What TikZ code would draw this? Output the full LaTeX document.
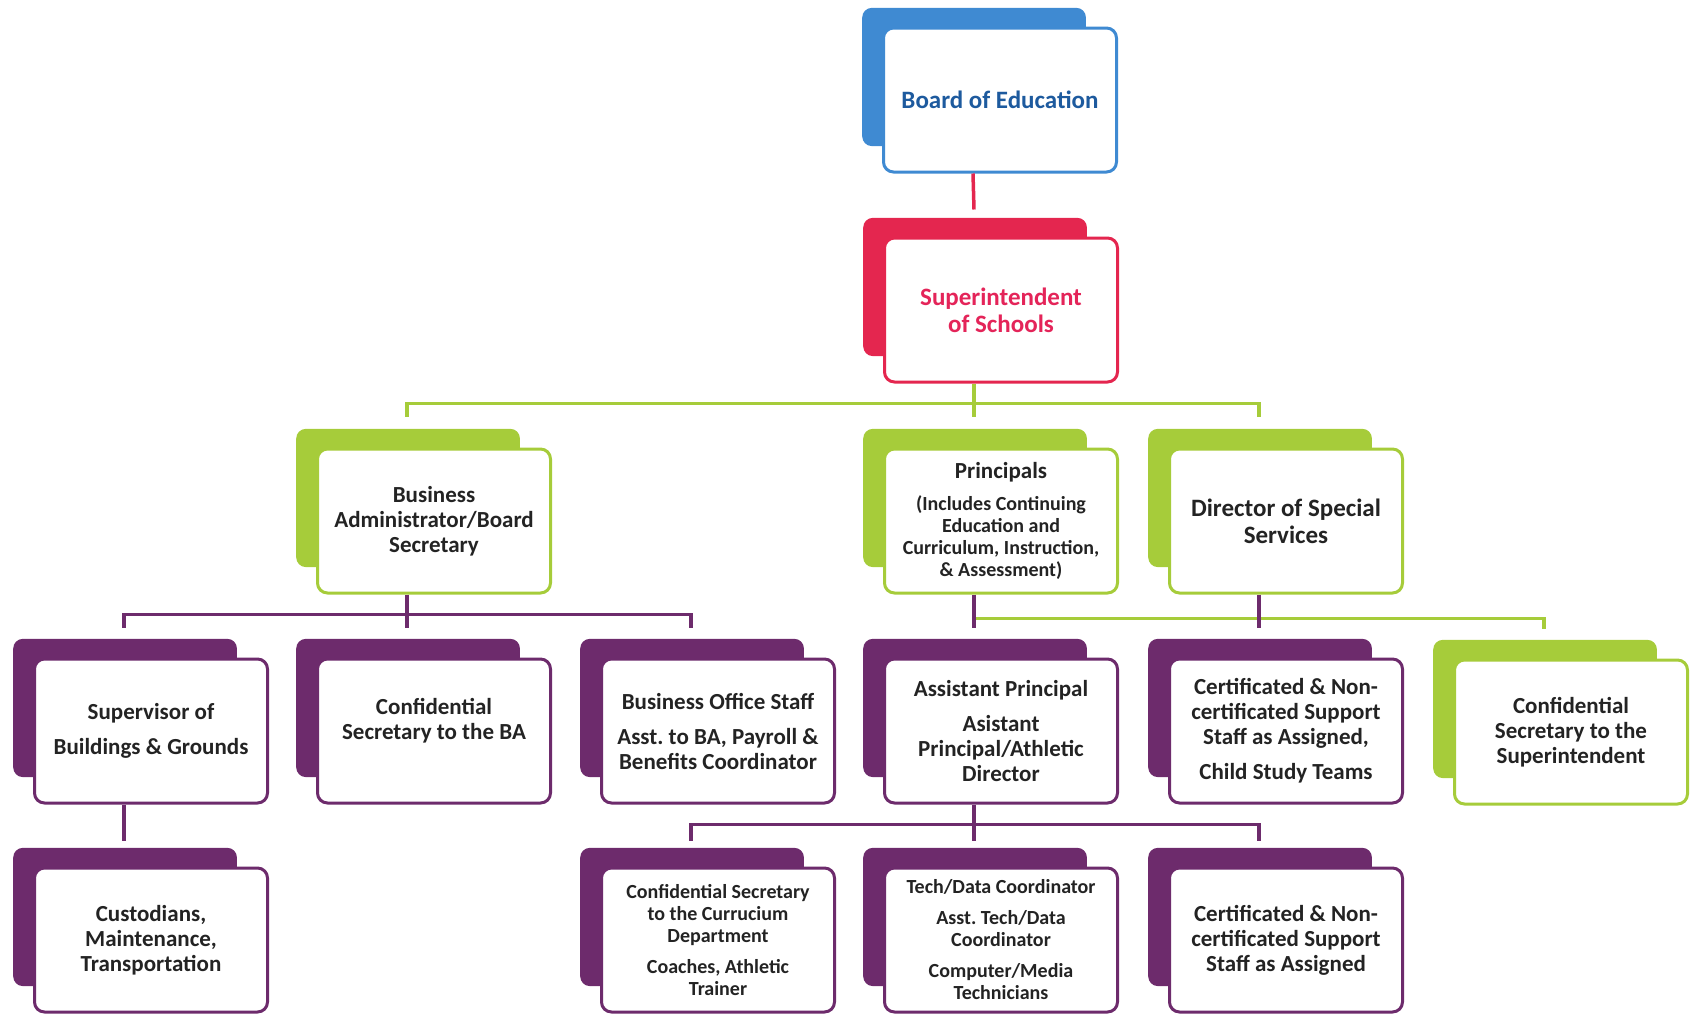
\documentclass[tikz,border=0pt]{standalone}
\usepackage{fontspec}
\setmainfont{Carlito}
\usepackage{tikz}
\usetikzlibrary{shadows}
\definecolor{boeBlue}{HTML}{3F8AD2}
\definecolor{boeText}{HTML}{1D5A9E}
\definecolor{supRed}{HTML}{E4264F}
\definecolor{supText}{HTML}{E42459}
\definecolor{stGreen}{HTML}{A6CC3A}
\definecolor{stPurple}{HTML}{6D2B6C}
\definecolor{inkGrey}{HTML}{232323}
\newcommand{\bigtxt}{\fontsize{25}{27}\selectfont\bfseries}
\newcommand{\midtxt}{\fontsize{23}{25}\selectfont\bfseries}
\newcommand{\smltxt}{\fontsize{20}{22}\selectfont\bfseries}
\tikzset{
  orgbox/.style   = {draw=#1, fill=white, line width=3pt, rounded corners=10pt,
                     minimum width=233pt, minimum height=144pt, inner sep=4pt,
                     text width=222pt, align=flush center, text=inkGrey, font=\midtxt,
                     general shadow={fill=#1, shadow scale=0.96,
                                     shadow xshift=-27pt, shadow yshift=24pt}},
  wire/.style     = {#1, line width=3.5pt},
}

\begin{document}
\begin{tikzpicture}[x=1pt, y=1pt]
  \useasboundingbox (0,0) rectangle (1690,-1018);

  % board and superintendent
  \node[orgbox=boeBlue, text=boeText, font=\bigtxt] (board) at (1000,-100) {Board of Education};
  \node[orgbox=supRed, text=supText, font=\bigtxt] (super) at (1001,-310) {Superintendent\\of Schools};

  % second level
  \node[orgbox=stGreen] (bizadmin) at (434,-521) {Business\\Administrator/Board\\Secretary};
  \node[orgbox=stGreen, font=\smltxt] (princ) at (1001,-521)
    {{\midtxt Principals}\\[10pt](Includes Continuing\\Education and\\Curriculum, Instruction,\\\& Assessment)};
  \node[orgbox=stGreen, font=\bigtxt] (dirss) at (1286,-521) {Director of Special\\Services};

  % third level
  \node[orgbox=stPurple] (supbg) at (151,-731) {Supervisor of\\[10pt]Buildings \& Grounds};
  \node[orgbox=stPurple] (confba) at (434,-731) {Confidential\\Secretary to the BA\\\mbox{}};
  \node[orgbox=stPurple] (bizoffice) at (718,-731)
    {Business Office Staff\\[10pt]Asst.\ to BA, Payroll \&\\Benefits Coordinator};
  \node[orgbox=stPurple] (asstprinc) at (1001,-731)
    {Assistant Principal\\[10pt]Asistant\\Principal/Athletic\\Director};
  \node[orgbox=stPurple] (certstaff) at (1286,-731)
    {Certificated \& Non-\\certificated Support\\Staff as Assigned,\\[10pt]Child Study Teams};
  \node[orgbox=stGreen] (confsup) at (1571,-732) {Confidential\\Secretary to the\\Superintendent};

  % fourth level
  \node[orgbox=stPurple] (custod) at (151,-940) {Custodians,\\Maintenance,\\Transportation};
  \node[orgbox=stPurple, font=\smltxt] (confcurr) at (718,-940)
    {Confidential Secretary\\to the Currucium\\Department\\[9pt]Coaches, Athletic\\Trainer};
  \node[orgbox=stPurple, font=\smltxt] (techdata) at (1001,-940)
    {Tech/Data Coordinator\\[9pt]Asst.\ Tech/Data\\Coordinator\\[9pt]Computer/Media\\Technicians};
  \node[orgbox=stPurple] (certsupp) at (1286,-940) {Certificated \& Non-\\certificated Support\\Staff as Assigned};

  % connectors run from the middle of the back card
  \draw[wire=supRed] ([xshift=-27pt]board.south) -- ([xshift=-27pt, yshift=27pt]super.north);
  \draw[wire=stGreen] ([xshift=-27pt]super.south) -- ([xshift=-27pt, yshift=31pt]princ.north);
  \draw[wire=stGreen] ([xshift=-27pt, yshift=31pt]bizadmin.north) |- ([xshift=-27pt, yshift=-20pt]super.south)
                      -| ([xshift=-27pt, yshift=31pt]dirss.north);
  \draw[wire=stGreen] ([xshift=-27pt, yshift=-24pt]princ.south) -| ([xshift=-27pt, yshift=30pt]confsup.north);
  \draw[wire=stPurple] ([xshift=-27pt]bizadmin.south) -- ([xshift=-27pt, yshift=30pt]confba.north);
  \draw[wire=stPurple] ([xshift=-27pt, yshift=30pt]supbg.north) |- ([xshift=-27pt, yshift=-20pt]bizadmin.south)
                       -| ([xshift=-27pt, yshift=30pt]bizoffice.north);
  \draw[wire=stPurple] ([xshift=-27pt]princ.south) -- ([xshift=-27pt, yshift=30pt]asstprinc.north);
  \draw[wire=stPurple] ([xshift=-27pt]dirss.south) -- ([xshift=-27pt, yshift=30pt]certstaff.north);
  \draw[wire=stPurple] ([xshift=-27pt]supbg.south) -- ([xshift=-27pt, yshift=26pt]custod.north);
  \draw[wire=stPurple] ([xshift=-27pt]asstprinc.south) -- ([xshift=-27pt, yshift=26pt]techdata.north);
  \draw[wire=stPurple] ([xshift=-27pt, yshift=26pt]confcurr.north) |- ([xshift=-27pt, yshift=-20pt]asstprinc.south)
                       -| ([xshift=-27pt, yshift=26pt]certsupp.north);
\end{tikzpicture}
\end{document}
